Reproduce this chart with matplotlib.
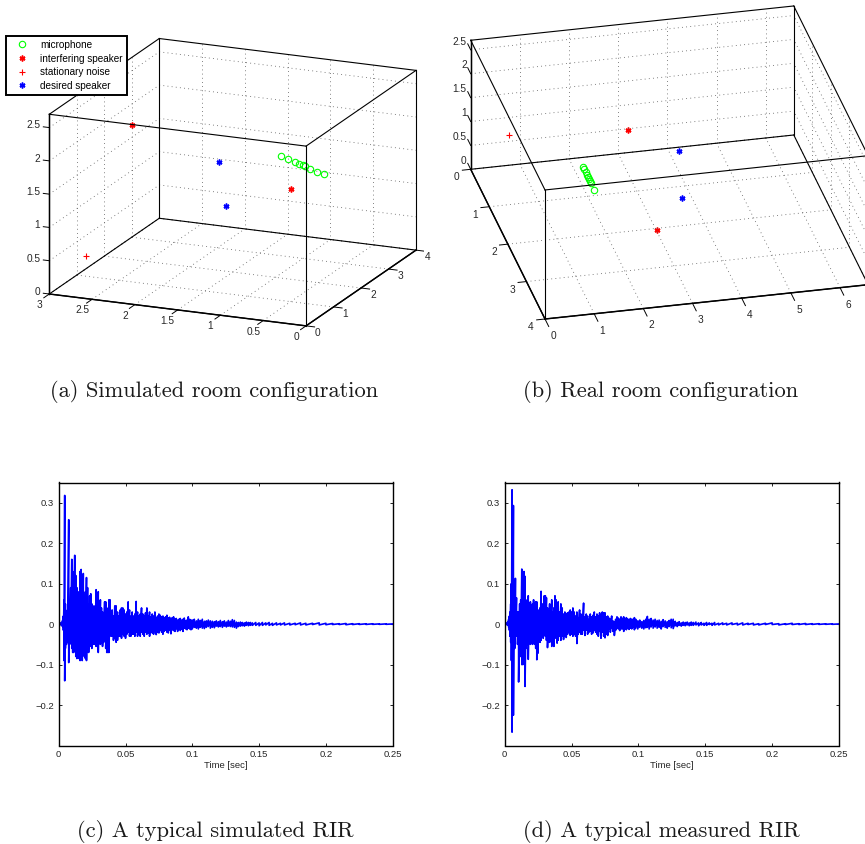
import matplotlib
matplotlib.use('Agg')
import matplotlib.pyplot as plt
import numpy as np
from mpl_toolkits.mplot3d import proj3d

plt.rcParams['font.family'] = ['Liberation Sans', 'DejaVu Sans']
plt.rcParams['axes.unicode_minus'] = True

W, H = 865, 844

# simulated room (a)
sim_mic_x = [0.77, 0.66, 0.55, 0.48, 0.43, 0.39, 0.30, 0.19, 0.09]
sim_mic_y = [1.49, 1.40, 1.30, 1.24, 1.21, 1.17, 1.09, 1.00, 0.92]
sim_mic_z = [2.0, 2.0, 2.0, 2.0, 2.0, 2.0, 2.0, 2.0, 2.0]
sim_int_x = [2.89, 0.68]
sim_int_y = [2.68, 1.56]
sim_int_z = [1.8, 1.5]
sim_noise_x = [2.70]
sim_noise_y = [0.41]
sim_noise_z = [0.5]
sim_des_x = [1.78, 1.09]
sim_des_y = [2.36, 0.47]
sim_des_z = [1.5, 1.5]

# real room (b)
real_mic_x = [1.60, 1.60, 1.60, 1.60, 1.60, 1.60, 1.60, 1.59, 1.59]
real_mic_y = [1.81, 1.88, 1.96, 2.03, 2.10, 2.14, 2.19, 2.26, 2.43]
real_mic_z = [1.3, 1.3, 1.3, 1.3, 1.3, 1.3, 1.3, 1.3, 1.3]
real_int_x = [2.67, 2.52]
real_int_y = [1.39, 3.36]
real_int_z = [1.62, 1.08]
real_noise_x = [0.71]
real_noise_y = [0.16]
real_noise_z = [0.76]
real_des_x = [3.46, 3.06]
real_des_y = [2.06, 3.27]
real_des_z = [1.62, 1.62]

legend_labels = ['microphone', 'interfering speaker', 'stationary noise', 'desired speaker']
captions = ['(a) Simulated room configuration', '(b) Real room configuration',
            '(c) A typical simulated RIR', '(d) A typical measured RIR']

# simulated RIR (c): peak times with upper and lower swing
t_c = [0, .002, .003, .0035, .004, .0045, .005, .0058, .0066, .0075,
       .0082, .009, .0098, .0105, .0112, .012, .0128, .0136, .0144, .0152,
       .016, .0168, .0176, .0184, .0192, .02, .0208, .0216, .0224, .0232,
       .024, .0248, .0256, .0264, .0272, .028, .0288, .0296, .0304, .0312,
       .032, .0328, .0336, .0344, .0352, .036, .0368, .0376, .0384, .0392,
       .04, .041, .042, .043, .044, .045, .046, .047, .048, .049,
       .05, .051, .052, .053, .054, .055, .056, .057, .058, .059,
       .06, .061, .062, .063, .064, .065, .066, .067, .068, .069,
       .07, .071, .072, .073, .074, .075, .076, .077, .078, .079,
       .08, .081, .082, .083, .084, .085, .086, .087, .088, .089,
       .09, .091, .092, .093, .094, .095, .096, .097, .098, .099,
       .1, .1015, .103, .1045, .106, .1075, .109, .1105, .112, .1135,
       .115, .1165, .118, .1195, .121, .1225, .124, .1255, .127, .1285,
       .13, .1315, .133, .1345, .136, .1375, .139, .1405, .142, .1435,
       .145, .1475, .15, .1525, .155, .1575, .16, .163, .166, .169,
       .173, .177, .181, .185, .19, .195, .2, .205, .21, .215,
       .22, .225, .23, .235, .24, .245, .25]
up_c = [0, .004, .01, .02, .06, .318, .05, .03, .035, .258,
        .05, .09, .16, .13, .07, .17, .12, .09, .08, .075,
        .13, .135, .09, .125, .06, .08, .115, .09, .05, .07,
        .075, .05, .04, .045, .035, .085, .05, .08, .045, .06,
        .04, .03, .025, .055, .055, .04, .03, .06, .06, .03,
        .035, .02, .045, .045, .03, .02, .035, .04, .04, .035,
        .025, .03, .055, .035, .02, .03, .02, .025, .056, .03,
        .02, .025, .04, .025, .02, .028, .04, .02, .03, .018,
        .025, .02, .03, .015, .02, .025, .022, .018, .02, .015,
        .018, .022, .015, .017, .012, .016, .018, .012, .014, .01,
        .012, .014, .01, .012, .015, .009, .01, .018, .012, .01,
        .01, .012, .008, .012, .009, .012, .007, .008, .01, .008,
        .007, .006, .008, .006, .009, .006, .008, .005, .009, .007,
        .011, .009, .005, .004, .005, .004, .003, .005, .004, .004,
        .003, .004, .003, .004, .003, .004, .002, .003, .002, .003,
        .002, .002, .003, .002, .002, .003, .002, .0015, .001, .0015,
        .001, .001, .0008, .0008, .0006, .0006, .0005]
lo_c = [0, -.004, -.006, -.015, -.09, -.14, -.06, -.05, -.045, -.095,
        -.05, -.04, -.06, -.07, -.07, -.065, -.08, -.085, -.07, -.085,
        -.09, -.075, -.09, -.07, -.08, -.085, -.09, -.06, -.07, -.05,
        -.055, -.06, -.045, -.05, -.04, -.055, -.05, -.07, -.045, -.05,
        -.04, -.055, -.045, -.035, -.06, -.07, -.07, -.07, -.025, -.03,
        -.03, -.04, -.035, -.045, -.04, -.03, -.03, -.035, -.025, -.03,
        -.035, -.025, -.02, -.03, -.03, -.025, -.025, -.03, -.02, -.03,
        -.025, -.03, -.02, -.025, -.03, -.02, -.025, -.022, -.03, -.02,
        -.022, -.025, -.018, -.026, -.02, -.022, -.015, -.02, -.025, -.018,
        -.015, -.02, -.022, -.015, -.024, -.014, -.016, -.018, -.012, -.018,
        -.012, -.016, -.012, -.018, -.01, -.012, -.014, -.01, -.012, -.014,
        -.012, -.008, -.01, -.012, -.008, -.01, -.011, -.008, -.006, -.01,
        -.008, -.009, -.005, -.007, -.006, -.008, -.005, -.007, -.005, -.006,
        -.007, -.008, -.01, -.006, -.005, -.004, -.005, -.003, -.004, -.003,
        -.003, -.003, -.004, -.003, -.002, -.003, -.003, -.002, -.002, -.002,
        -.002, -.0015, -.002, -.002, -.001, -.002, -.0015, -.001, -.001, -.0015,
        -.001, -.0008, -.0008, -.0006, -.0006, -.0005, -.0003]

# measured RIR (d)
t_d = [0, .002, .003, .0035, .004, .0045, .005, .0055, .006, .0065,
       .007, .0075, .008, .0088, .0096, .0104, .0112, .012, .0128, .0136,
       .0144, .0152, .016, .0168, .0176, .0184, .0192, .02, .0208, .0216,
       .0224, .0232, .024, .0248, .0256, .0264, .0272, .028, .0288, .0296,
       .0304, .0312, .032, .0328, .0336, .0344, .0352, .036, .0368, .0376,
       .0384, .0392, .04, .041, .042, .043, .044, .045, .046, .047,
       .048, .049, .05, .051, .052, .053, .054, .055, .056, .057,
       .058, .059, .06, .061, .062, .063, .064, .065, .066, .067,
       .068, .069, .07, .071, .072, .073, .074, .075, .076, .077,
       .078, .079, .08, .081, .082, .083, .084, .085, .086, .087,
       .088, .089, .09, .091, .092, .093, .094, .095, .096, .097,
       .098, .0995, .101, .1025, .104, .1055, .1067, .108, .1095, .111,
       .1125, .114, .1155, .117, .1185, .12, .1215, .123, .1245, .126,
       .1275, .129, .1305, .132, .1335, .135, .1365, .138, .1395, .141,
       .143, .145, .147, .149, .151, .153, .155, .157, .16, .163,
       .166, .17, .174, .178, .182, .186, .19, .195, .2, .205,
       .21, .215, .22, .225, .23, .235, .24, .245, .25]
up_d = [0, .004, .012, .02, .03, .05, .1, .332, .25, .293,
        .06, .05, .113, .065, .03, .03, .05, .06, .136, .08,
        .13, .118, .045, .06, .07, .05, .055, .04, .05, .06,
        .04, .055, .055, .03, .035, .04, .081, .05, .035, .07,
        .07, .065, .04, .03, .05, .035, .06, .03, .04, .07,
        .06, .03, .055, .03, .05, .04, .025, .03, .025, .028,
        .03, .035, .03, .04, .03, .02, .03, .015, .035, .025,
        .02, .052, .018, .025, .02, .012, .025, .018, .022, .03,
        .018, .025, .02, .028, .022, .03, .028, .028, .018, .02,
        .015, .012, .02, .008, .006, .012, .018, .015, .012, .018,
        .014, .018, .012, .016, .013, .01, .014, .012, .012, .016,
        .012, .008, .01, .006, .009, .012, .019, .012, .014, .01,
        .012, .009, .01, .007, .011, .008, .006, .009, .012, .012,
        .007, .004, .006, .003, .005, .004, .005, .003, .005, .004,
        .005, .003, .004, .002, .004, .003, .002, .004, .002, .003,
        .002, .003, .002, .003, .002, .002, .001, .002, .003, .001,
        .001, .002, .001, .0015, .001, .001, .0007, .0007, .0005]
lo_d = [0, -.003, -.008, -.015, -.03, -.045, -.09, -.267, -.1, -.225,
        -.05, -.06, -.03, -.03, -.05, -.143, -.06, -.08, -.10, -.1,
        -.06, -.154, -.06, -.05, -.087, -.04, -.05, -.04, -.05, -.045,
        -.05, -.06, -.088, -.072, -.04, -.045, -.04, -.03, -.035, -.02,
        -.03, -.04, -.058, -.03, -.045, -.02, -.055, -.03, -.055, -.035,
        -.03, -.047, -.04, -.03, -.04, -.03, -.038, -.03, -.033, -.025,
        -.02, -.028, -.025, -.03, -.025, -.03, -.048, -.025, -.02, -.025,
        -.025, -.015, -.028, -.015, -.025, -.02, -.018, -.025, -.022, -.015,
        -.02, -.025, -.03, -.018, -.035, -.02, -.03, -.034, -.025, -.028,
        -.012, -.02, -.01, -.018, -.028, -.015, -.01, -.012, -.016, -.012,
        -.012, -.018, -.012, -.014, -.01, -.013, -.01, -.012, -.008, -.014,
        -.01, -.012, -.008, -.01, -.012, -.009, -.008, -.012, -.007, -.01,
        -.007, -.01, -.008, -.012, -.006, -.008, -.01, -.006, -.009, -.011,
        -.004, -.006, -.003, -.005, -.003, -.004, -.002, -.004, -.003, -.003,
        -.002, -.004, -.002, -.003, -.003, -.001, -.003, -.002, -.002, -.001,
        -.002, -.001, -.002, -.002, -.001, -.002, -.002, -.001, -.001, -.002,
        -.001, -.001, -.001, -.001, -.0007, -.0007, -.0005, -.0005, -.0003]

rir_xticks = [0, 0.05, 0.1, 0.15, 0.2, 0.25]
rir_yticks = [-0.2, -0.1, 0, 0.1, 0.2, 0.3]

fig = plt.figure(figsize=(W / 100, H / 100), dpi=100)


def plot_points(ax, mic, inter, noise, des):
    l1, = ax.plot(*mic, ls='none', marker='o', ms=4.6, mfc='none', mec=(0, 1, 0), mew=0.8)
    l2, = ax.plot(*inter, ls='none', marker=(6, 2, 0), ms=4.2, mec='r', mew=1.1)
    l3, = ax.plot(*noise, ls='none', marker='+', ms=4.5, mec='r', mew=0.8)
    l4, = ax.plot(*des, ls='none', marker=(6, 2, 0), ms=4.2, mec='b', mew=1.1)
    return [l1, l2, l3, l4]


def draw_box(ax, xlim, ylim, zlim, xb, yb, xticks, yticks, zticks):
    # xb, yb: the back walls, everything dotted goes on them and on the floor
    grid = dict(color='0.35', lw=0.6, ls=(0, (1, 4)))
    for t in xticks:
        ax.plot([t, t], [yb, yb], zlim, **grid)
        ax.plot([t, t], ylim, [0, 0], **grid)
    for t in yticks:
        ax.plot([xb, xb], [t, t], zlim, **grid)
        ax.plot(xlim, [t, t], [0, 0], **grid)
    for t in zticks:
        ax.plot([xb, xb], ylim, [t, t], **grid)
        ax.plot(xlim, [yb, yb], [t, t], **grid)
    edge = dict(color='k', lw=0.8)
    for y in ylim:
        for z in zlim:
            ax.plot(xlim, [y, y], [z, z], **edge)
    for x in xlim:
        for z in zlim:
            ax.plot([x, x], ylim, [z, z], **edge)
    for x in xlim:
        for y in ylim:
            ax.plot([x, x], [y, y], zlim, **edge)


def set_limits(ax, xlim, ylim, zlim, azim, elev, aspect):
    ax.set_proj_type('ortho')
    ax.view_init(elev=elev, azim=azim)
    ax.set_box_aspect(aspect)
    ax.set_xlim(xlim[0], xlim[1], view_margin=0)
    ax.set_ylim(ylim[0], ylim[1], view_margin=0)
    ax.set_zlim(zlim[0], zlim[1], view_margin=0)
    ax.set_axis_off()


def to_pixels(ax, p):
    X, Y, _ = proj3d.proj_transform(p[0], p[1], p[2], ax.get_proj())
    return ax.transData.transform((X, Y))


def place(ax, p0, px0, p1, px1):
    # put two corners of the box on the wanted pixels (px given from the top)
    size = 500.0
    ax.set_position([0, 0, size / W, size / H])
    fig.canvas.draw()
    a = to_pixels(ax, p0)
    b = to_pixels(ax, p1)
    want = np.hypot(px1[0] - px0[0], px1[1] - px0[1])
    size = size * want / np.hypot(*(b - a))
    ax.set_position([0, 0, size / W, size / H])
    fig.canvas.draw()
    a = to_pixels(ax, p0)
    ax.set_position([(px0[0] - a[0]) / W, (H - px0[1] - a[1]) / H, size / W, size / H])
    fig.canvas.draw()


def label3d(ax, p, s, ha='center'):
    # tick labels are put on the figure, at the pixel the room point lands on
    q = to_pixels(ax, p)
    fig.text(q[0] / W, q[1] / H, s, ha=ha, va='center', fontsize=7.3, color='0.15')


# panel a
ax1 = fig.add_subplot(projection='3d')
xl, yl, zl = (3, 0), (0, 4), (0, 2.7)
xt = [0, 0.5, 1, 1.5, 2, 2.5, 3]
yt = [0, 1, 2, 3, 4]
zt = [0, 0.5, 1, 1.5, 2, 2.5]
handles = plot_points(ax1, (sim_mic_x, sim_mic_y, sim_mic_z), (sim_int_x, sim_int_y, sim_int_z),
                      (sim_noise_x, sim_noise_y, sim_noise_z), (sim_des_x, sim_des_y, sim_des_z))
draw_box(ax1, xl, yl, zl, 3, 4, xt, yt, zt)
tk = dict(color='k', lw=0.7)
ax_edge = dict(color='k', lw=1.05)
ax1.plot(xl, [0, 0], [0, 0], **ax_edge)
ax1.plot([0, 0], yl, [0, 0], **ax_edge)
ax1.plot([3, 3], [0, 0], zl, **ax_edge)
for t in xt:
    ax1.plot([t, t], [0, -0.2], [0, 0], **tk)
for t in yt:
    ax1.plot([0, -0.1], [t, t], [0, 0], **tk)
for t in zt:
    ax1.plot([3, 3.07], [0, 0], [t, t], **tk)
set_limits(ax1, xl, yl, zl, -67, 17, (279, 281.5, 188))
place(ax1, (3, 0, 0), (49.3, 294), (0, 4, 0), (416, 250))
for t in xt:
    label3d(ax1, (t, -0.364, -0.061), f'{t:g}')
for t in yt:
    label3d(ax1, (-0.137, t, -0.083), f'{t:g}')
for t in zt:
    label3d(ax1, (3.105, 0, t + 0.016), f'{t:g}', ha='right')

leg = ax1.legend(handles, legend_labels, loc='upper left', bbox_to_anchor=(5.7 / W, 1 - 35.7 / H),
                 bbox_transform=fig.transFigure, fontsize=7.2, fancybox=False, framealpha=1,
                 edgecolor='k', borderaxespad=0, borderpad=0.42, labelspacing=0.36,
                 handlelength=2.45, handletextpad=0.55, numpoints=1)
leg.get_frame().set_linewidth(1.4)

# panel b
ax2 = fig.add_subplot(projection='3d')
xl, yl, zl = (0, 6.57), (4, 0), (0, 2.7)
xt = [0, 1, 2, 3, 4, 5, 6]
yt = [0, 1, 2, 3, 4]
zt = [0, 0.5, 1, 1.5, 2, 2.5]
plot_points(ax2, (real_mic_x, real_mic_y, real_mic_z), (real_int_x, real_int_y, real_int_z),
            (real_noise_x, real_noise_y, real_noise_z), (real_des_x, real_des_y, real_des_z))
draw_box(ax2, xl, yl, zl, 6.57, 0, xt, yt, zt)
ax2.plot(xl, [4, 4], [0, 0], **ax_edge)
ax2.plot([0, 0], yl, [0, 0], **ax_edge)
ax2.plot([0, 0], [0, 0], zl, **ax_edge)
for t in xt:
    ax2.plot([t, t], [4, 4.2], [0, 0], **tk)
for t in yt:
    ax2.plot([0, -0.17], [t, t], [0, 0], **tk)
for t in zt:
    ax2.plot([0, 0], [0, -0.16], [t, t], **tk)
set_limits(ax2, xl, yl, zl, -102.93, 27.55, (331.4, 332, 145.5))
place(ax2, (0, 0, 0), (470.7, 169.3), (0, 4, 0), (545, 319))
for t in xt:
    label3d(ax2, (t, 4.45, 0), f'{t:g}')
for t in yt:
    label3d(ax2, (-0.285, t, -0.14), f'{t:g}')
for t in zt:
    label3d(ax2, (0, -0.22, t), f'{t:g}', ha='right')


def rir_panel(left, right, t, up, lo):
    ax = fig.add_axes([left / W, 1 - 745.5 / H, (right - left) / W, 263 / H])
    ax.plot(np.repeat(t, 2), np.column_stack((up, lo)).ravel(), color=(0, 0, 1), lw=1.2)
    ax.set_xlim(0, 0.25)
    ax.set_ylim(-0.3, 0.35)
    ax.set_xticks(rir_xticks)
    ax.set_xticklabels([f'{v:g}' for v in rir_xticks])
    ax.set_yticks(rir_yticks)
    ax.set_yticklabels([f'{v:g}'.replace('-', '\u2212') for v in rir_yticks])
    ax.tick_params(direction='in', top=True, right=True, length=2.5, width=0.6,
                   labelsize=6.8, labelcolor='0.15', pad=3.5)
    for s in ax.spines.values():
        s.set_linewidth(1.0)
    ax.set_xlabel('Time [sec]', fontsize=6.8, color='0.15', labelpad=1.0)
    return ax


rir_panel(58.7, 392.7, t_c, up_c, lo_c)
rir_panel(504.7, 839, t_d, up_d, lo_d)

cap_pos = [(214.5, 391.5), (661, 391.5), (215, 831.5), (661, 831.5)]
for (cx, cy), c in zip(cap_pos, captions):
    fig.text(cx / W, 1 - cy / H, c, ha='center', va='center', family='cmr10', fontsize=16.2, color='0.1')

fig.savefig('out.png', dpi=100)
